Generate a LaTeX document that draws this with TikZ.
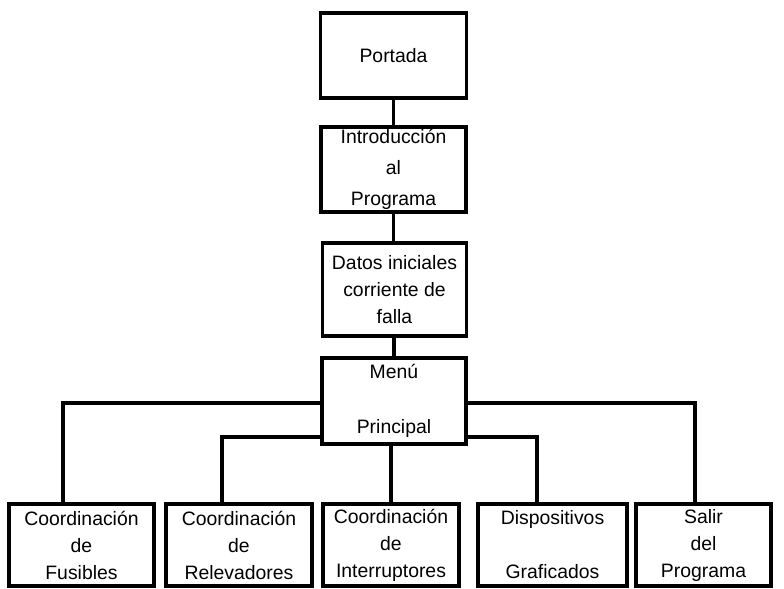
\documentclass[tikz,border=0pt]{standalone}
\usepackage{fontspec}
\setmainfont{Liberation Sans}
\usepackage{tikz}
\usetikzlibrary{calc}

\begin{document}
\begin{tikzpicture}[x=0.5pt,y=-0.5pt]
          \tikzstyle{every node}+=[inner sep=0pt]
          \tikzstyle{caja}=[draw=black, line width=1.7pt, align=center, font=\fontsize{9.7}{13.5}\selectfont]
          \tikzstyle{linea}=[draw=black, line width=1.6pt]
          \useasboundingbox (0,0) rectangle (784,589);
          \node [caja, minimum width=73pt, minimum height=42.5pt] (portada) at (393.5,55.5) {Portada};
          \node [caja, minimum width=72.5pt, minimum height=42.5pt, font=\fontsize{9.7}{15.5}\selectfont] (intro) at (393.5,169.5) {Introducción\\al\\Programa};
          \node [caja, minimum width=72pt, minimum height=46.5pt] (datos) at (394.5,289.5) {Datos iniciales\\corriente de\\falla};
          \node [caja, minimum width=72pt, minimum height=43pt, font=\fontsize{9.7}{13.2}\selectfont] (menu) at (394,401) {Menú\\[14.2pt]Principal};
          \node [caja, minimum width=72.5pt, minimum height=41pt] (fus) at (81.5,545) {Coordinación\\de\\Fusibles};
          \node [caja, minimum width=73pt, minimum height=41pt] (rel) at (239,545) {Coordinación\\de\\Relevadores};
          \node [caja, minimum width=68pt, minimum height=41pt] (int) at (391,545) {Coordinación\\de\\Interruptores};
          \node [caja, minimum width=74.5pt, minimum height=41pt] (dis) at (552.5,545) {Dispositivos\\[13.5pt]Graficados};
          \node [caja, minimum width=67.5pt, minimum height=41pt] (sal) at (703.5,545) {Salir\\del\\Programa};
          \draw [linea] (portada.south) -- (intro.north);
          \draw [linea] (intro.south) -- (datos.north -| intro.south);
          \draw [linea] (datos.south -| menu.north) -- (menu.north);
          \draw [linea] ($(menu.west)+(0,2)$) -| ($(fus.north)+(-18.5,0)$);
          \draw [linea] ($(menu.west)+(0,36)$) -| ($(rel.north)+(-17,0)$);
          \draw [linea] (menu.south -| int.north) -- (int.north);
          \draw [linea] ($(menu.east)+(0,36)$) -| ($(dis.north)+(-15.5,0)$);
          \draw [linea] ($(menu.east)+(0,2)$) -| ($(sal.north)+(-8.5,0)$);
          \end{tikzpicture}
\end{document}
